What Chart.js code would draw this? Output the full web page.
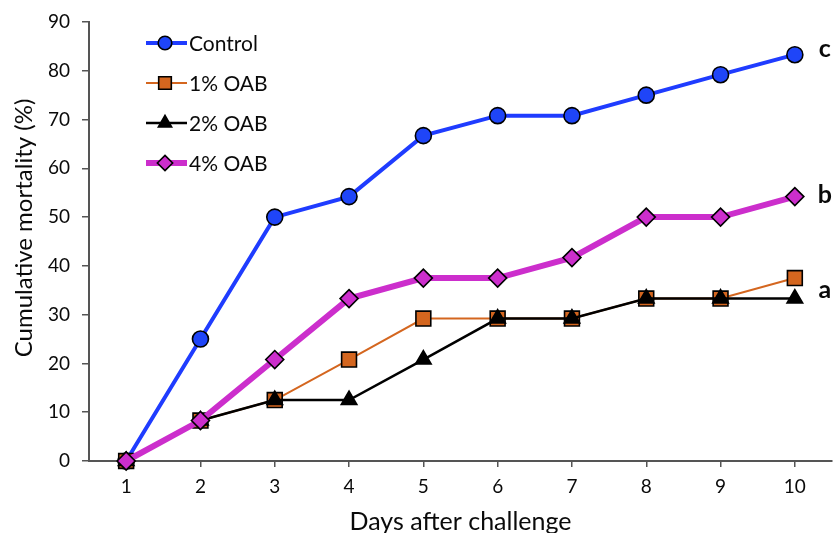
<!DOCTYPE html>
<html>
<head>
<meta charset="utf-8">
<script src="https://cdn.jsdelivr.net/npm/chart.js@4.4.1/dist/chart.umd.min.js"></script>
<style>
  html, body { margin: 0; padding: 0; background: #fff; overflow: hidden; }
  #wrap { width: 835px; height: 533px; position: relative; }
  canvas { display: block; }
</style>
</head>
<body>
<div id="wrap"><canvas id="c" width="835" height="533"></canvas></div>
<script>
const days = ['1', '2', '3', '4', '5', '6', '7', '8', '9', '10'];
const seriesNames = ['Control', '1% OAB', '2% OAB', '4% OAB'];
const control = [0, 25, 50, 54.2, 66.7, 70.8, 70.8, 75, 79.2, 83.3];
const oab1 = [0, 8.3, 12.5, 20.8, 29.2, 29.2, 29.2, 33.3, 33.3, 37.5];
const oab2 = [0, 8.3, 12.5, 12.5, 20.8, 29.2, 29.2, 33.3, 33.3, 33.3];
const oab4 = [0, 8.3, 20.8, 33.3, 37.5, 37.5, 41.7, 50, 50, 54.2];
const yTicks = [0, 10, 20, 30, 40, 50, 60, 70, 80, 90];
const groupLetters = ['c', 'b', 'a'];
const groupMembers = [[0], [3], [1, 2]];
const xTitle = 'Days after challenge';
const yTitle = 'Cumulative mortality (%)';

const FONT = 'Lato, "Open Sans", sans-serif';
const AX = '#555555';
const TXT = '#0a0a0a';

const styles = [
  { color: '#1f3cff', fill: '#1f45f8', width: 4, style: 'circle', r: 8 },
  { color: '#d4661f', fill: '#d4661f', width: 2, style: 'rect', r: 10.5 },
  { color: '#000000', fill: '#000000', width: 2.5, style: 'triangle', r: 9 },
  { color: '#cc2ecc', fill: '#cc2ecc', width: 6, style: 'rectRot', r: 9 }
];
const values = [control, oab1, oab2, oab4];

const datasets = values.map((v, i) => ({
  label: seriesNames[i],
  data: v,
  borderColor: styles[i].color,
  borderWidth: styles[i].width,
  backgroundColor: styles[i].fill,
  pointBackgroundColor: styles[i].fill,
  pointBorderColor: '#000000',
  pointBorderWidth: 1.6,
  pointStyle: styles[i].style,
  pointRadius: styles[i].r,
  pointHoverRadius: styles[i].r,
  tension: 0,
  clip: false,
  order: 4 - i
}));

const legendPlugin = {
  id: 'insideLegend',
  afterDatasetsDraw(chart) {
    const ctx = chart.ctx;
    const x0 = 146, x1 = 187, xm = 165, tx = 189;
    const rows = [43, 83, 123, 163];
    chart.data.datasets.forEach((ds, i) => {
      const y = rows[i];
      ctx.save();
      ctx.strokeStyle = ds.borderColor;
      ctx.lineWidth = ds.borderWidth;
      ctx.beginPath(); ctx.moveTo(x0, y); ctx.lineTo(x1, y); ctx.stroke();
      ctx.fillStyle = ds.pointBackgroundColor;
      ctx.strokeStyle = '#000';
      ctx.lineWidth = 1.6;
      Chart.helpers.drawPoint(ctx, { pointStyle: ds.pointStyle, radius: ds.pointRadius * 0.85, borderWidth: 1.6, rotation: 0 }, xm, y);
      ctx.fillStyle = TXT;
      ctx.font = '21px ' + FONT;
      ctx.textBaseline = 'middle';
      ctx.textAlign = 'left';
      ctx.fillText(ds.label, tx, y + 1);
      ctx.restore();
    });
    const ys = chart.scales.y, xs = chart.scales.x;
    const last = days.length - 1;
    const xl = xs.getPixelForValue(last) + 30;
    groupLetters.forEach((L, g) => {
      const mem = groupMembers[g];
      const avg = mem.reduce((s, k) => s + values[k][last], 0) / mem.length;
      const y = ys.getPixelForValue(avg) - (g === 0 ? 6 : (g === 1 ? 2 : -2));
      ctx.save();
      ctx.fillStyle = TXT;
      ctx.font = 'bold 25px ' + FONT;
      ctx.textAlign = 'center';
      ctx.textBaseline = 'middle';
      ctx.fillText(L, xl, y);
      ctx.restore();
    });
    // y axis title
    ctx.save();
    ctx.translate(24, 228);
    ctx.rotate(-Math.PI / 2);
    ctx.fillStyle = TXT;
    ctx.font = '24px ' + FONT;
    ctx.textAlign = 'center';
    ctx.textBaseline = 'middle';
    ctx.fillText(yTitle, 0, 0);
    ctx.restore();
  }
};

new Chart(document.getElementById('c'), {
  type: 'line',
  data: { labels: days, datasets },
  plugins: [legendPlugin],
  options: {
    responsive: false,
    animation: false,
    events: [],
    layout: { autoPadding: false, padding: { left: 0, right: 3, top: 22, bottom: 0 } },
    plugins: { legend: { display: false }, tooltip: { enabled: false } },
    scales: {
      x: {
        type: 'category',
        offset: true,
        grid: { display: true, drawOnChartArea: false, drawTicks: true, tickLength: 6, color: AX, lineWidth: 1.5, offset: false },
        border: { display: true, color: AX, width: 2 },
        ticks: { color: TXT, font: { family: FONT, size: 19 }, padding: 8, maxRotation: 0, autoSkip: false },
        title: { display: true, text: xTitle, color: TXT, font: { family: FONT, size: 25 }, padding: { top: 12, bottom: -4 } },
        afterFit(scale) { scale.height = 72; scale.paddingLeft = 0; scale.paddingRight = 0; }
      },
      y: {
        min: 0, max: 90,
        afterBuildTicks(scale) { scale.ticks = yTicks.map(v => ({ value: v })); },
        grid: { display: true, drawOnChartArea: false, drawTicks: true, tickLength: 7, color: AX, lineWidth: 1.5 },
        border: { display: true, color: AX, width: 2 },
        ticks: { color: TXT, font: { family: FONT, size: 19 }, padding: 12 },
        title: { display: false },
        afterFit(scale) { scale.width = 89; scale.paddingTop = 0; scale.paddingBottom = 0; }
      }
    }
  }
});
</script>
</body>
</html>
